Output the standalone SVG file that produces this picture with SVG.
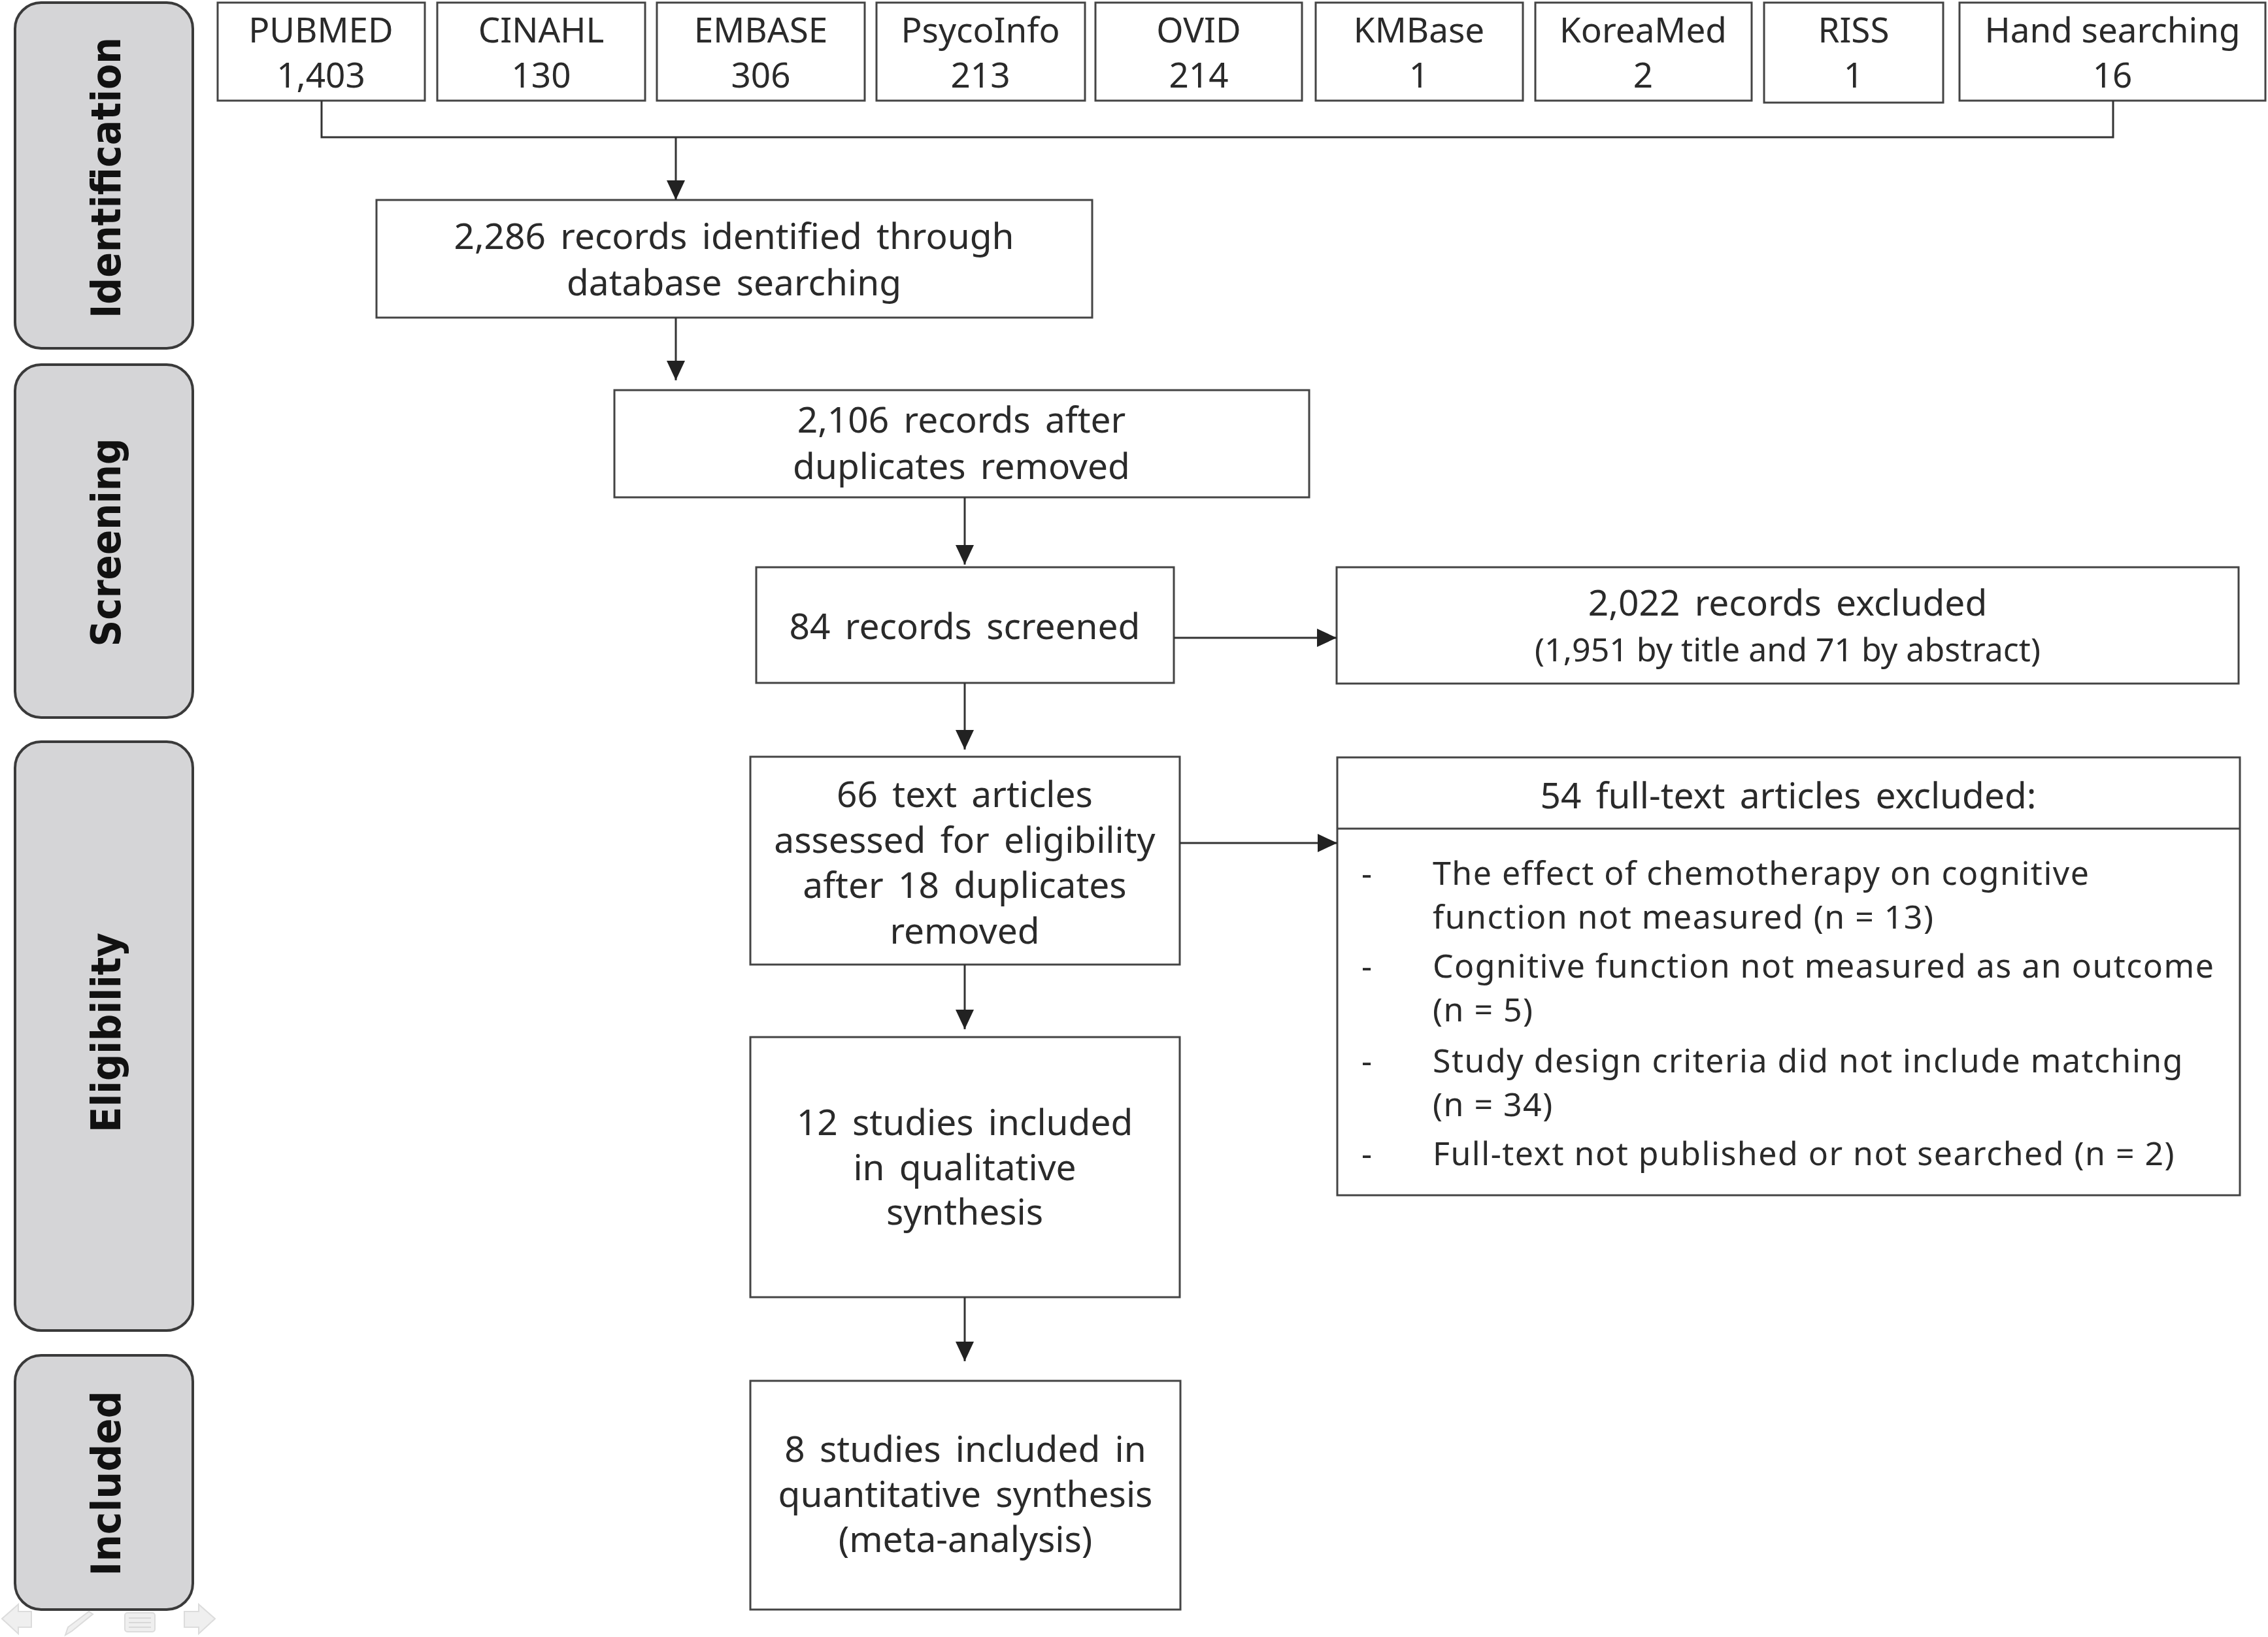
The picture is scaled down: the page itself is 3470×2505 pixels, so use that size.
<svg xmlns="http://www.w3.org/2000/svg" width="3470" height="2505" viewBox="0 0 3470 2505">
<style>
.phase{fill:#d5d5d7;stroke:#3a3a3a;stroke-width:4}
.box{fill:#fff;stroke:#444;stroke-width:3}
.lbl{font-family:"DejaVu Sans",Verdana,sans-serif;font-weight:bold;font-size:62px;fill:#111;text-anchor:middle}
.t{font-family:"Noto Sans","Open Sans",sans-serif;font-size:55px;fill:#2a2a2a;text-anchor:middle;word-spacing:8px}
.tt{font-family:"Noto Sans","Open Sans",sans-serif;font-size:53px;fill:#2a2a2a;text-anchor:middle}
.sm{font-family:"Noto Sans","Open Sans",sans-serif;font-size:50px;fill:#2a2a2a;text-anchor:middle}
.li{font-family:"Noto Sans","Open Sans",sans-serif;font-size:50px;fill:#2a2a2a;letter-spacing:1.5px}
.conn{fill:none;stroke:#333;stroke-width:3}
.nav{fill:#efefef;stroke:#dcdcdc;stroke-width:2}
</style>
<defs>
<marker id="arr" markerUnits="userSpaceOnUse" markerWidth="30" markerHeight="28" refX="30" refY="14" orient="auto">
<path d="M0,0 L30,14 L0,28 Z" fill="#222"/>
</marker>
</defs>

<g id="phase-identification">
<rect class="phase" x="23" y="4" width="272" height="529" rx="40" ry="40"/>
<text class="lbl" transform="translate(184,272) rotate(-90)" textLength="430" lengthAdjust="spacingAndGlyphs">Identification</text>
</g>
<g id="phase-screening">
<rect class="phase" x="23" y="558" width="272" height="540" rx="40" ry="40"/>
<text class="lbl" transform="translate(184,830) rotate(-90)" textLength="319" lengthAdjust="spacingAndGlyphs">Screening</text>
</g>
<g id="phase-eligibility">
<rect class="phase" x="23" y="1135" width="272" height="901" rx="40" ry="40"/>
<text class="lbl" transform="translate(184,1580) rotate(-90)" textLength="306" lengthAdjust="spacingAndGlyphs">Eligibility</text>
</g>
<g id="phase-included">
<rect class="phase" x="23" y="2074" width="272" height="389" rx="40" ry="40"/>
<text class="lbl" transform="translate(184,2270) rotate(-90)" textLength="283" lengthAdjust="spacingAndGlyphs">Included</text>
</g>

<g id="src-pubmed"><rect class="box" x="333" y="4" width="317" height="150"/><text class="tt" x="491" y="65">PUBMED</text><text class="tt" x="491" y="134">1,403</text></g>
<g id="src-cinahl"><rect class="box" x="669" y="4" width="318" height="150"/><text class="tt" x="828" y="65">CINAHL</text><text class="tt" x="828" y="134">130</text></g>
<g id="src-embase"><rect class="box" x="1005" y="4" width="318" height="150"/><text class="tt" x="1164" y="65">EMBASE</text><text class="tt" x="1164" y="134">306</text></g>
<g id="src-psycoinfo"><rect class="box" x="1341" y="4" width="319" height="150"/><text class="tt" x="1500" y="65">PsycoInfo</text><text class="tt" x="1500" y="134">213</text></g>
<g id="src-ovid"><rect class="box" x="1676" y="4" width="316" height="150"/><text class="tt" x="1834" y="65">OVID</text><text class="tt" x="1834" y="134">214</text></g>
<g id="src-kmbase"><rect class="box" x="2013" y="4" width="317" height="150"/><text class="tt" x="2171" y="65">KMBase</text><text class="tt" x="2171" y="134">1</text></g>
<g id="src-koreamed"><rect class="box" x="2349" y="4" width="331" height="150"/><text class="tt" x="2514" y="65">KoreaMed</text><text class="tt" x="2514" y="134">2</text></g>
<g id="src-riss"><rect class="box" x="2699" y="4" width="274" height="153"/><text class="tt" x="2836" y="65">RISS</text><text class="tt" x="2836" y="134">1</text></g>
<g id="src-hand"><rect class="box" x="2998" y="4" width="468" height="150"/><text class="tt" x="3232" y="65">Hand searching</text><text class="tt" x="3232" y="134">16</text></g>

<g id="n-identified"><rect class="box" x="576" y="306" width="1095" height="180"/>
<text class="t" x="1123" y="381">2,286 records identified through</text>
<text class="t" x="1123" y="452">database searching</text></g>

<g id="n-dedup"><rect class="box" x="940" y="597" width="1063" height="164"/>
<text class="t" x="1471" y="662">2,106 records after</text>
<text class="t" x="1471" y="733">duplicates removed</text></g>

<g id="n-screened"><rect class="box" x="1157" y="868" width="639" height="177"/>
<text class="t" x="1476" y="978">84 records screened</text></g>

<g id="n-excluded"><rect class="box" x="2045" y="868" width="1380" height="178"/>
<text class="t" x="2735" y="942">2,022 records excluded</text>
<text class="sm" x="2735" y="1012">(1,951 by title and 71 by abstract)</text></g>

<g id="n-assessed"><rect class="box" x="1148" y="1158" width="657" height="318"/>
<text class="t" x="1476" y="1235">66 text articles</text>
<text class="t" x="1476" y="1305">assessed for eligibility</text>
<text class="t" x="1476" y="1374">after 18 duplicates</text>
<text class="t" x="1476" y="1444">removed</text></g>

<g id="n-fulltext-excluded"><rect class="box" x="2046" y="1159" width="1381" height="670"/>
<line x1="2046" y1="1268" x2="3427" y2="1268" stroke="#444" stroke-width="3"/>
<text class="t" x="2736" y="1237">54 full-text articles excluded:</text>
<text class="li" x="2083" y="1354">-</text><text class="li" x="2192" y="1354">The effect of chemotherapy on cognitive</text>
<text class="li" x="2192" y="1421">function not measured (n = 13)</text>
<text class="li" x="2083" y="1496">-</text><text class="li" x="2192" y="1496">Cognitive function not measured as an outcome</text>
<text class="li" x="2192" y="1563">(n = 5)</text>
<text class="li" x="2083" y="1641">-</text><text class="li" x="2192" y="1641">Study design criteria did not include matching</text>
<text class="li" x="2192" y="1708">(n = 34)</text>
<text class="li" x="2083" y="1783">-</text><text class="li" x="2192" y="1783">Full-text not published or not searched (n = 2)</text></g>

<g id="n-qualitative"><rect class="box" x="1148" y="1587" width="657" height="398"/>
<text class="t" x="1476" y="1737">12 studies included</text>
<text class="t" x="1476" y="1806">in qualitative</text>
<text class="t" x="1476" y="1874">synthesis</text></g>

<g id="n-quantitative"><rect class="box" x="1148" y="2113" width="658" height="350"/>
<text class="t" x="1477" y="2237">8 studies included in</text>
<text class="t" x="1477" y="2306">quantitative synthesis</text>
<text class="t" x="1477" y="2375">(meta-analysis)</text></g>

<g id="connectors">
<polyline class="conn" points="492,154 492,210 3233,210 3233,154"/>
<path class="conn" d="M1034,210 V306" marker-end="url(#arr)"/>
<path class="conn" d="M1034,486 V582" marker-end="url(#arr)"/>
<path class="conn" d="M1476,761 V864" marker-end="url(#arr)"/>
<path class="conn" d="M1796,976 H2045" marker-end="url(#arr)"/>
<path class="conn" d="M1476,1045 V1147" marker-end="url(#arr)"/>
<path class="conn" d="M1805,1290 H2046" marker-end="url(#arr)"/>
<path class="conn" d="M1476,1476 V1575" marker-end="url(#arr)"/>
<path class="conn" d="M1476,1985 V2083" marker-end="url(#arr)"/>
</g>

<g id="nav-icons">
<polygon class="nav" points="3,2477 28,2455 28,2466 48,2466 48,2490 28,2490 28,2500"/>
<polygon class="nav" points="100,2502 104,2490 136,2466 142,2470 110,2496"/>
<rect class="nav" x="191" y="2468" width="46" height="29" rx="4"/>
<line x1="197" y1="2476" x2="231" y2="2476" stroke="#d8d8d8" stroke-width="2"/>
<line x1="197" y1="2483" x2="231" y2="2483" stroke="#d8d8d8" stroke-width="2"/>
<line x1="197" y1="2490" x2="231" y2="2490" stroke="#d8d8d8" stroke-width="2"/>
<polygon class="nav" points="329,2477 304,2455 304,2466 282,2466 282,2490 304,2490 304,2500"/>
</g>
</svg>
